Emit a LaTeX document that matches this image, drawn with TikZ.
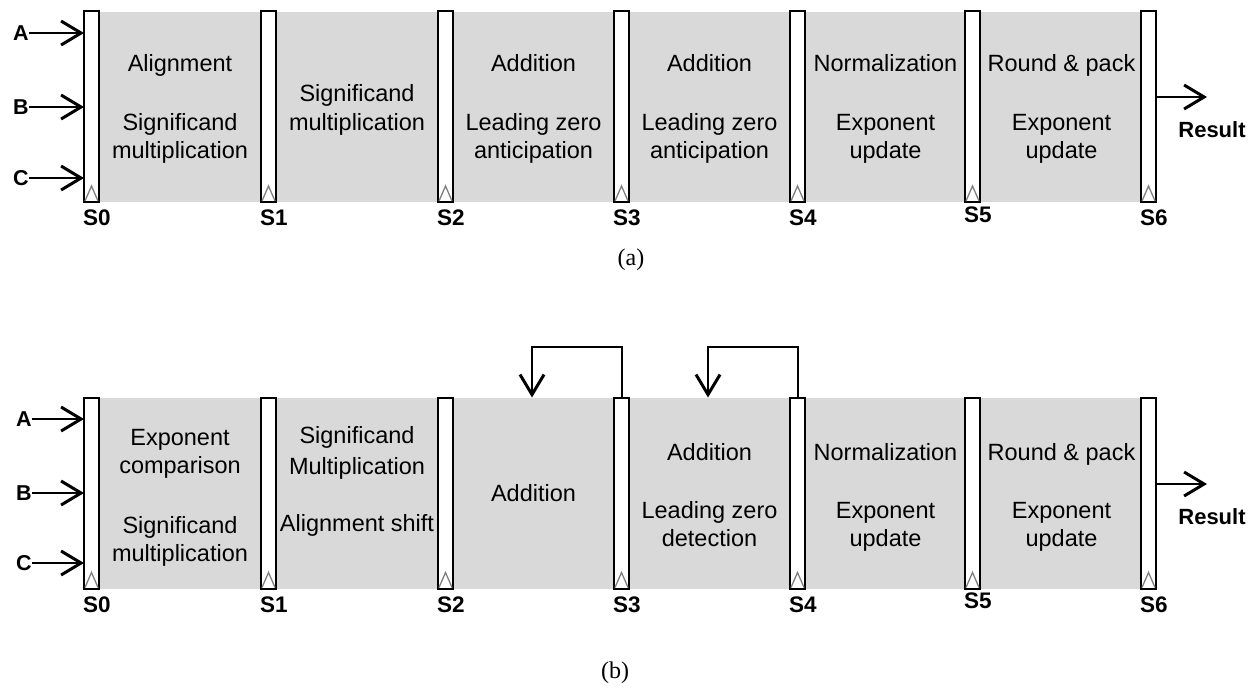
\documentclass[tikz,border=0pt]{standalone}
\usepackage{fontspec}
\setmainfont{Liberation Sans}
\newfontfamily\capfont{Liberation Serif}
\usetikzlibrary{arrows.meta}
\definecolor{stagegray}{RGB}{217,217,217}
\tikzset{
  reg/.style={draw, line width=2pt, fill=white, minimum width=15pt,
    minimum height=191pt, inner sep=0pt, outer sep=0pt},
  stagetxt/.style={font=\fontsize{23.5}{28}\selectfont, anchor=base, inner sep=0pt},
  reglab/.style={font=\fontsize{22.5}{24}\selectfont\bfseries, anchor=base west, inner sep=0pt},
  inlab/.style={font=\fontsize{21.5}{24}\selectfont\bfseries, inner sep=0pt},
  reslab/.style={font=\fontsize{22}{24}\selectfont\bfseries, inner sep=0pt},
  sig/.style={line width=2pt, -{Straight Barb[length=20pt,width=24pt,line width=3pt]}},
  clk/.style={draw=gray, line width=1.3pt},
  captxt/.style={font=\capfont\fontsize{24}{28}\selectfont, inner sep=0pt}
}
\begin{document}
\begin{tikzpicture}[x=1pt,y=-1pt]
\useasboundingbox (0,0) rectangle (1258,689);

% ---------------- (a) seven-stage pipeline ----------------
\fill[stagegray] (100,12) rectangle (1140,202);
\foreach \i/\x in {0/83,1/260,2/437,3/613,4/789,5/964,6/1140}{
  \node[reg] (a\i) at (\x+8.5,106.5) {};
  \draw[clk] ([xshift=-6.5pt,yshift=1pt]a\i.south) -- ([yshift=16pt]a\i.south)
             -- ([xshift=6.5pt,yshift=1pt]a\i.south);
}
\foreach \i/\x/\y in {0/83/225,1/260/225,2/437/225,3/613/225,4/789/225,5/964/222,6/1140/225}{
  \node[reglab] (sa\i) at (\x,\y) {S\i};
}
% inputs and output
\node[inlab] (ina) at (21,33) {A};
\node[inlab] (inb) at (21,107) {B};
\node[inlab] (inc) at (21,178) {C};
\foreach \n in {ina,inb,inc}{ \draw[sig] (\n.east) -- (\n.east -| a0.west); }
\coordinate (outa) at (1207,97);
\draw[sig] (outa -| a6.east) -- (outa);
\node[reslab] (resa) at (1212,130) {Result};
% stage operations
\node[stagetxt] (a1l1) at (180,71)  {Alignment};
\node[stagetxt] (a1l2) at (180,130) {Significand};
\node[stagetxt] (a1l3) at (180,158) {multiplication};
\node[stagetxt] (a2l1) at (357,101) {Significand};
\node[stagetxt] (a2l2) at (357,130) {multiplication};
\node[stagetxt] (a3l1) at (533.5,71)  {Addition};
\node[stagetxt] (a3l2) at (533.5,130) {Leading zero};
\node[stagetxt] (a3l3) at (533.5,158) {anticipation};
\node[stagetxt] (a4l1) at (709.5,71)  {Addition};
\node[stagetxt] (a4l2) at (709.5,130) {Leading zero};
\node[stagetxt] (a4l3) at (709.5,158) {anticipation};
\node[stagetxt] (a5l1) at (885.5,71)  {Normalization};
\node[stagetxt] (a5l2) at (885.5,130) {Exponent};
\node[stagetxt] (a5l3) at (885.5,158) {update};
\node[stagetxt] (a6l1) at (1061.5,71)  {Round \& pack};
\node[stagetxt] (a6l2) at (1061.5,130) {Exponent};
\node[stagetxt] (a6l3) at (1061.5,158) {update};
\node[captxt] (capa) at (631,260) {(a)};

% ---------------- (b) pipeline with feedback ----------------
\fill[stagegray] (100,398) rectangle (1140,589);
\foreach \i/\x in {0/83,1/260,2/437,3/613,4/789,5/964,6/1140}{
  \node[reg] (b\i) at (\x+8.5,493) {};
  \draw[clk] ([xshift=-6.5pt,yshift=1pt]b\i.south) -- ([yshift=16pt]b\i.south)
             -- ([xshift=6.5pt,yshift=1pt]b\i.south);
}
\foreach \i/\x/\y in {0/83/612,1/260/612,2/437/612,3/613/612,4/789/612,5/964/608,6/1140/612}{
  \node[reglab] (sb\i) at (\x,\y) {S\i};
}
% inputs and output
\node[inlab] (inab) at (24,419) {A};
\node[inlab] (inbb) at (24,493) {B};
\node[inlab] (incb) at (24,563) {C};
\foreach \n in {inab,inbb,incb}{ \draw[sig] (\n.east) -- (\n.east -| b0.west); }
\coordinate (outb) at (1207,484);
\draw[sig] (outb -| b6.east) -- (outb);
\node[reslab] (resb) at (1212,517) {Result};
% feedback loops
\coordinate (fb3) at (532,347);
\coordinate (fb4) at (708,347);
\draw[sig] (b3.north) |- (fb3) -- (fb3 |- b3.north);
\draw[sig] (b4.north) |- (fb4) -- (fb4 |- b4.north);
% stage operations
\node[stagetxt] (b1l1) at (180,445) {Exponent};
\node[stagetxt] (b1l2) at (180,473) {comparison};
\node[stagetxt] (b1l3) at (180,533) {Significand};
\node[stagetxt] (b1l4) at (180,561) {multiplication};
\node[stagetxt] (b2l1) at (357,443) {Significand};
\node[stagetxt] (b2l2) at (357,474) {Multiplication};
\node[stagetxt] (b2l3) at (357,531) {Alignment shift};
\node[stagetxt] (b3l1) at (533.5,501) {Addition};
\node[stagetxt] (b4l1) at (709.5,460) {Addition};
\node[stagetxt] (b4l2) at (709.5,518) {Leading zero};
\node[stagetxt] (b4l3) at (709.5,546) {detection};
\node[stagetxt] (b5l1) at (885.5,460) {Normalization};
\node[stagetxt] (b5l2) at (885.5,518) {Exponent};
\node[stagetxt] (b5l3) at (885.5,546) {update};
\node[stagetxt] (b6l1) at (1061.5,460) {Round \& pack};
\node[stagetxt] (b6l2) at (1061.5,518) {Exponent};
\node[stagetxt] (b6l3) at (1061.5,546) {update};
\node[captxt] (capb) at (615,673) {(b)};
\end{tikzpicture}
\end{document}
